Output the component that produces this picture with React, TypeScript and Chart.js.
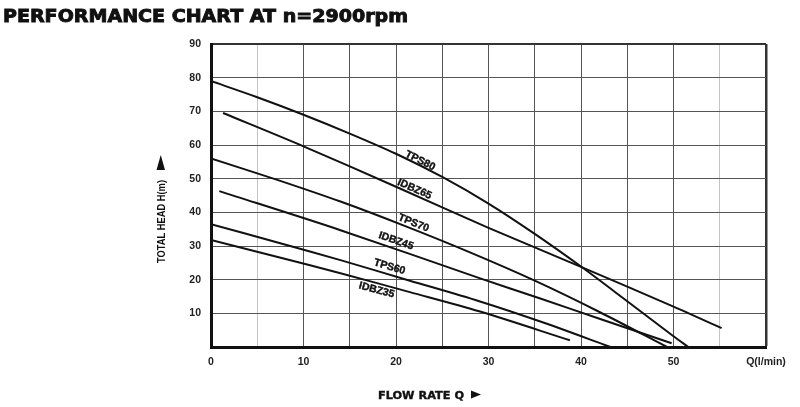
import React, { useEffect, useRef } from "react";
import { Chart, registerables } from "chart.js";
Chart.register(...registerables);

const chartTitle = "PERFORMANCE CHART AT n=2900rpm";
const xAxisTitle = "FLOW RATE Q";
const yAxisTitle = "TOTAL HEAD H(m)";
const xUnitLabel = "Q(l/min)";

const seriesNames = ["TPS80", "IDBZ65", "TPS70", "IDBZ45", "TPS60", "IDBZ35"];

const tps80Q = [0, 5, 10, 15, 20, 25, 30, 35, 40, 45, 50, 51.6];
const tps80H = [79, 74.2, 69, 63.4, 57.4, 50.5, 42.6, 33.6, 23.9, 13.6, 3.2, 0];

const idbz65Q = [1.3, 10, 20, 30, 40, 50, 55.2];
const idbz65H = [69.5, 59.6, 47.6, 35.4, 23.8, 12, 5.6];

const tps70Q = [0, 7, 14, 21, 28, 35, 42, 49.3];
const tps70H = [56, 49.8, 43.2, 35.9, 28.1, 19.7, 10.4, 0];

const idbz45Q = [0.9, 14, 29.1, 35.6, 42, 49.8];
const idbz45H = [46.3, 34.7, 20.4, 14.4, 8.4, 1.1];

const tps60Q = [0, 7, 14, 21.5, 29, 36, 43.2];
const tps60H = [36.5, 31.2, 25.8, 19.7, 13.6, 7.2, 0];

const idbz35Q = [0, 7, 14, 21.5, 29, 38.8];
const idbz35H = [31.8, 26.9, 21.9, 16.3, 10.6, 2];

// curve label anchor points (data units)
const labelQ = [22.6, 22.0, 21.9, 20.0, 19.3, 17.9];
const labelH = [55.3, 46.9, 36.8, 31.5, 23.8, 16.9];

const xTickValues = [0, 5, 10, 15, 20, 25, 30, 35, 40, 45, 50, 55, 60];
const xTickLabels = ["0", "", "10", "", "20", "", "30", "", "40", "", "50", "", xUnitLabel];
const yTickValues = [0, 10, 20, 30, 40, 50, 60, 70, 80, 90];
const yTickLabels = ["", "10", "20", "30", "40", "50", "60", "70", "80", "90"];

const seriesQ = [tps80Q, idbz65Q, tps70Q, idbz45Q, tps60Q, idbz35Q];
const seriesH = [tps80H, idbz65H, tps70H, idbz45H, tps60H, idbz35H];

function drawFitText(ctx: CanvasRenderingContext2D, text: string, x: number, y: number, width: number, stroke = false) {
  const w = ctx.measureText(text).width;
  ctx.save();
  ctx.translate(x, y);
  ctx.scale(width / w, 1);
  ctx.fillText(text, 0, 0);
  if (stroke) ctx.strokeText(text, 0, 0);
  ctx.restore();
}

const decorPlugin = {
  id: "decor",
  afterDatasetsDraw(chart: any) {
    const ctx: CanvasRenderingContext2D = chart.ctx;
    const xs = chart.scales.x;
    const ys = chart.scales.y;
    const area = chart.chartArea;
    ctx.save();
    ctx.fillStyle = "#111";
    ctx.strokeStyle = "#111";
    ctx.textAlign = "left";
    ctx.textBaseline = "alphabetic";

    // curve labels
    ctx.font = 'bold 10.5px "Liberation Sans", Arial, sans-serif';
    ctx.lineWidth = 0.4;
    for (let i = 0; i < seriesNames.length; i++) {
      const q = seriesQ[i];
      const h = seriesH[i];
      let j = 0;
      while (j < q.length - 2 && q[j + 1] < labelQ[i]) j++;
      const x1 = xs.getPixelForValue(q[j]);
      const y1 = ys.getPixelForValue(h[j]);
      const x2 = xs.getPixelForValue(q[j + 1]);
      const y2 = ys.getPixelForValue(h[j + 1]);
      const ang = Math.atan2(y2 - y1, x2 - x1);
      const px = xs.getPixelForValue(labelQ[i]);
      const py = ys.getPixelForValue(labelH[i]);
      ctx.save();
      ctx.translate(px, py);
      ctx.rotate(ang);
      ctx.textAlign = "center";
      ctx.textBaseline = "middle";
      ctx.fillText(seriesNames[i], 0, 0);
      ctx.strokeText(seriesNames[i], 0, 0);
      ctx.restore();
    }

    // main title
    ctx.font = 'bold 18px "DejaVu Sans", sans-serif';
    ctx.lineWidth = 0.9;
    drawFitText(ctx, chartTitle, 3, 21.5, 405, true);

    // x axis title
    ctx.font = 'bold 11px "DejaVu Sans", sans-serif';
    ctx.lineWidth = 0.4;
    const xtLeft = area.left + 167;
    drawFitText(ctx, xAxisTitle, xtLeft, 398.5, 86, true);
    ctx.beginPath();
    ctx.moveTo(xtLeft + 93, 390.5);
    ctx.lineTo(xtLeft + 103, 394.5);
    ctx.lineTo(xtLeft + 93, 398.5);
    ctx.closePath();
    ctx.fill();

    // y axis title
    ctx.font = 'bold 11px "Liberation Sans", Arial, sans-serif';
    const ytBase = area.left - 46;
    const ytStart = 263;
    ctx.save();
    ctx.translate(ytBase, ytStart);
    ctx.rotate(-Math.PI / 2);
    drawFitText(ctx, yAxisTitle, 0, 0, 83);
    ctx.beginPath();
    ctx.moveTo(93, -8.5);
    ctx.lineTo(108, -4.25);
    ctx.lineTo(93, 0);
    ctx.closePath();
    ctx.fill();
    ctx.restore();

    ctx.restore();
  },
};

export default function App() {
  const ref = useRef<HTMLCanvasElement | null>(null);
  useEffect(() => {
    if (!ref.current) return;
    const datasets = seriesNames.map((name, i) => ({
      label: name,
      data: seriesQ[i].map((q, k) => ({ x: q, y: seriesH[i][k] })),
      borderColor: "#111",
      borderWidth: 2,
      pointRadius: 0,
      fill: false,
      tension: 0.3,
    }));
    const chart = new Chart(ref.current, {
      type: "line",
      data: { datasets },
      plugins: [decorPlugin],
      options: {
        animation: false,
        responsive: false,
        devicePixelRatio: 1,
        layout: { padding: { top: 44, right: 34, left: 0, bottom: 0 } },
        plugins: { legend: { display: false }, title: { display: false }, tooltip: { enabled: false } },
        scales: {
          x: {
            type: "linear",
            min: 0,
            max: 60,
            afterBuildTicks: (s: any) => {
              s.ticks = xTickValues.map((v) => ({ value: v }));
            },
            afterFit: (s: any) => {
              s.height = 60;
            },
            ticks: {
              autoSkip: false,
              maxRotation: 0,
              padding: 9,
              color: "#222",
              font: { family: '"Liberation Sans", Arial, sans-serif', size: 10.5, weight: "bold" },
              callback: (v: any) => {
                const idx = xTickValues.indexOf(Number(v));
                return idx >= 0 ? xTickLabels[idx] : "";
              },
            },
            grid: {
              drawTicks: false,
              color: (c: any) => {
                const v = c.tick ? c.tick.value : -1;
                if (v === 0) return "rgba(0,0,0,0)";
                if (v === 5 || v === 55) return "#c4c4c4";
                if (v === 60) return "#333";
                return "#555";
              },
              lineWidth: (c: any) => (c.tick && c.tick.value === 60 ? 2.5 : 1),
            },
            border: { display: true, color: "#111", width: 3 },
          },
          y: {
            type: "linear",
            min: 0,
            max: 90,
            afterBuildTicks: (s: any) => {
              s.ticks = yTickValues.map((v) => ({ value: v }));
            },
            afterFit: (s: any) => {
              s.width = 211;
            },
            ticks: {
              padding: 10,
              color: "#222",
              font: { family: '"Liberation Sans", Arial, sans-serif', size: 10.5, weight: "bold" },
              callback: (v: any) => {
                const idx = yTickValues.indexOf(Number(v));
                return idx >= 0 ? yTickLabels[idx] : "";
              },
            },
            grid: {
              drawTicks: false,
              color: (c: any) => {
                const v = c.tick ? c.tick.value : -1;
                if (v === 0) return "rgba(0,0,0,0)";
                if (v === 90) return "#333";
                return "#555";
              },
              lineWidth: (c: any) => (c.tick && c.tick.value === 90 ? 2 : 1),
            },
            border: { display: true, color: "#111", width: 3 },
          },
        },
      },
    });
    return () => chart.destroy();
  }, []);
  return (
    <div style={{ position: "fixed", left: 0, top: 0, width: 800, height: 407, background: "#fff" }}>
      <canvas ref={ref} width={800} height={407} style={{ display: "block", width: 800, height: 407 }} />
    </div>
  );
}
